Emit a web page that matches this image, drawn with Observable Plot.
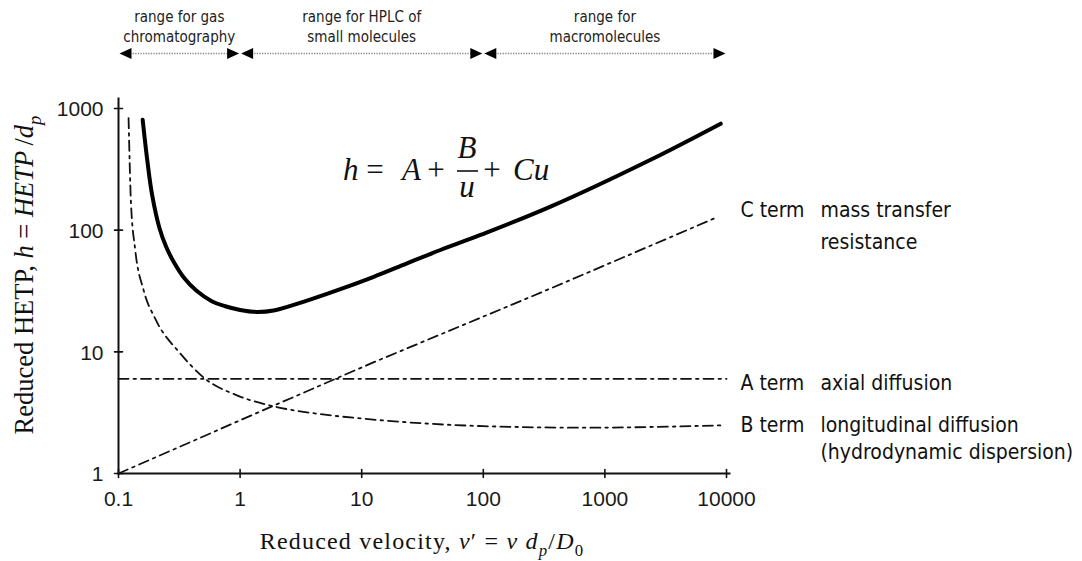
<!DOCTYPE html>
<html>
<head>
<meta charset="utf-8">
<script src="https://cdn.jsdelivr.net/npm/d3@7"></script>
<script src="https://cdn.jsdelivr.net/npm/@observablehq/plot@0.6"></script>
<style>
  body { margin: 0; background: #fff; }
  #chart svg { display: block; }
</style>
</head>
<body>
<div id="chart"></div>
<script>
// Reduced plate height h against reduced velocity v' (log–log), van Deemter form.
// Total plate height curve
const totalVelocity = [0.158, 0.173, 0.189, 0.2174, 0.247, 0.284, 0.347, 0.436, 0.59, 0.755, 1.0, 1.36, 1.887, 3.55, 6.68, 12.56, 23.6, 44.4, 94.8, 357, 2377, 8960];
const totalHeight   = [809, 366, 195, 103.8, 72.7, 55.0, 40.4, 31.9, 25.9, 23.7, 22.1, 21.3, 21.9, 26.4, 32.8, 41.4, 53.4, 68.7, 91.3, 156, 379, 750];

// A term (axial diffusion): flat
const aVelocity = [0.1, 10000];
const aHeight   = [6, 6];

// B term (longitudinal diffusion)
const bVelocity = [0.121, 0.1265, 0.137, 0.161, 0.2, 0.322, 0.517, 0.943, 2.0, 4.3, 10.4, 100, 670, 9500];
const bHeight   = [835, 172, 70, 32, 18.8, 9.7, 6.0, 4.39, 3.52, 3.10, 2.82, 2.45, 2.38, 2.49];

// C term (mass transfer resistance)
const cVelocity = [0.1, 1.83, 11.8, 245, 520, 8400];
const cHeight   = [1, 3.56, 8.0, 28.3, 38.9, 128];

// Axis ticks
const xTicks = [0.1, 1, 10, 100, 1000, 10000];
const xTickLabels = ["0.1", "1", "10", "100", "1000", "10000"];
const yTicks = [1, 10, 100, 1000];
const yTickLabels = ["1", "10", "100", "1000"];

// Operating ranges shown above the plot
const rangeStart = [0.1, 1, 100];
const rangeEnd   = [1, 100, 10000];
const rangeLabels = ["range for gas\nchromatography", "range for HPLC of\nsmall molecules", "range for\nmacromolecules"];

// Term labels at the right-hand end of each term curve
const termNames = ["C term", "A term", "B term"];
const termDescriptions = ["mass transfer\nresistance", "axial diffusion", "longitudinal diffusion\n(hydrodynamic dispersion)"];

// ---------------------------------------------------------------------------
const series = (vs, hs) => vs.map((v, i) => ({v, h: hs[i]}));
const total = series(totalVelocity, totalHeight);
const aTerm = series(aVelocity, aHeight);
const bTerm = series(bVelocity, bHeight);
const cTerm = series(cVelocity, cHeight);

const ink = "#111";
const sansUI = "'DejaVu Sans Condensed', 'DejaVu Sans', sans-serif";
const sansNum = "'Liberation Sans', Arial, sans-serif";
const serif = "'Liberation Serif', 'Times New Roman', serif";
const dashDot = "10,5,2.5,5";

// short straight segment used for the axis tick marks (centred on the axis)
const tickShape = {draw(context, l) { context.moveTo(0, 0); context.lineTo(0, -l); }};
// filled arrowhead with its tip at the origin, pointing right
const arrowHead = {draw(context) { context.moveTo(0, 0); context.lineTo(-12, -5.5); context.lineTo(-12, 5.5); context.closePath(); }};

const ranges = rangeStart.map((a, i) => ({a, b: rangeEnd[i], mid: Math.sqrt(a * rangeEnd[i]), label: rangeLabels[i]}));
const arrowTips = ranges.flatMap(r => [{x: r.a, rot: 180}, {x: r.b, rot: 0}]);

// label block for each term sits at the right end of its curve
const ends = [cTerm[cTerm.length - 1], aTerm[aTerm.length - 1], bTerm[bTerm.length - 1]];
const termLineHeights = [1.52, 1, 1.25];
const termOffsets = [-22.7, -3.4, -11.6];

const termMarks = termNames.flatMap((name, i) => {
  const common = {x: () => 10000, y: "h", dy: termOffsets[i], textAnchor: "start", lineAnchor: "top",
    lineHeight: termLineHeights[i], fontSize: 21, fontFamily: sansUI, fill: ink};
  return [
    Plot.text([ends[i]], {...common, text: () => name, dx: 14}),
    Plot.text([ends[i]], {...common, text: () => termDescriptions[i], dx: 94})
  ];
});

const plot = Plot.plot({
  width: 1082,
  height: 561,
  marginLeft: 118,
  marginRight: 356,
  marginTop: 108,
  marginBottom: 88,
  x: {type: "log", domain: [0.1, 10000], axis: null},
  y: {type: "log", domain: [1, 1000], axis: null},
  style: {background: "#fff", overflow: "visible"},
  marks: [
    // axis lines
    Plot.frame({anchor: "left", insetTop: -10, stroke: ink, strokeWidth: 2}),
    Plot.frame({anchor: "bottom", insetRight: -3, stroke: ink, strokeWidth: 2}),
    // tick marks crossing the axes
    Plot.vector(xTicks, {x: d => d, y: () => 1, length: 8, rotate: 0, anchor: "middle", shape: tickShape, stroke: ink, strokeWidth: 1.6}),
    Plot.vector(yTicks, {x: () => 0.1, y: d => d, length: 8, rotate: 90, anchor: "middle", shape: tickShape, stroke: ink, strokeWidth: 1.6}),
    // tick labels
    Plot.text(xTicks, {x: d => d, y: () => 1, text: (d, i) => xTickLabels[i], dy: 25.5, fontSize: 21, fontFamily: sansNum, fill: "#1a1a1a"}),
    Plot.text(yTicks, {x: () => 0.1, y: d => d, text: (d, i) => yTickLabels[i], dx: -15, dy: 1, textAnchor: "end", fontSize: 21, fontFamily: sansNum, fill: "#1a1a1a"}),
    // term curves
    Plot.line(cTerm, {x: "v", y: "h", stroke: ink, strokeWidth: 1.8, strokeDasharray: dashDot}),
    Plot.line(aTerm, {x: "v", y: "h", stroke: ink, strokeWidth: 1.8, strokeDasharray: dashDot}),
    Plot.line(bTerm, {x: "v", y: "h", curve: "monotone-x", stroke: ink, strokeWidth: 1.8, strokeDasharray: dashDot}),
    // total reduced plate height
    Plot.line(total, {x: "v", y: "h", curve: "catmull-rom", stroke: "#000", strokeWidth: 4}),
    ...termMarks,
    // operating ranges above the frame
    Plot.ruleY(ranges, {y: () => 1000, x1: "a", x2: "b", dy: -55, insetLeft: 12, insetRight: 12, stroke: "#888", strokeWidth: 1.3, strokeDasharray: "1.3,1.3"}),
    Plot.dot(arrowTips.filter(d => d.rot === 180), {x: "x", y: () => 1000, dy: -55, dx: 1, rotate: "rot", symbol: arrowHead, fill: "#000", stroke: "none"}),
    Plot.dot(arrowTips.filter(d => d.rot === 0), {x: "x", y: () => 1000, dy: -55, dx: -1, rotate: "rot", symbol: arrowHead, fill: "#000", stroke: "none"}),
    Plot.text(ranges, {x: "mid", y: () => 1000, text: "label", dy: -67, lineAnchor: "bottom", lineHeight: 1.27, fontSize: 15, fontFamily: sansUI, fill: "#222"})
  ]
});

document.getElementById("chart").appendChild(plot);

// Rich-text pieces (axis titles with math, and the van Deemter equation)
const svg = d3.select(plot);

function rich(sel, parts, size) {
  for (const p of parts) {
    const t = sel.append("tspan").text(p.t);
    if (p.italic) t.attr("font-style", "italic");
    if (p.sub) t.attr("font-size", size * 0.7).attr("dy", size * 0.3);
    if (p.up) t.attr("dy", -size * 0.3);
  }
}

// x-axis title
const xTitleSize = 24;
const xTitle = svg.append("text")
  .attr("x", (118 + 726) / 2).attr("y", 549)
  .attr("text-anchor", "middle")
  .attr("letter-spacing", 1.2)
  .attr("font-family", serif).attr("font-size", xTitleSize).attr("fill", ink);
rich(xTitle, [
  {t: "Reduced velocity, "}, {t: "v", italic: true}, {t: "′ = "}, {t: "v", italic: true}, {t: " "},
  {t: "d", italic: true}, {t: "p", italic: true, sub: true}, {t: "/", up: true}, {t: "D", italic: true}, {t: "0", sub: true}
], xTitleSize);

// y-axis title
const yTitleSize = 26.5;
const yTitle = svg.append("text")
  .attr("transform", "translate(33,275) rotate(-90)")
  .attr("text-anchor", "middle")
  .attr("font-family", serif).attr("font-size", yTitleSize).attr("fill", ink);
rich(yTitle, [
  {t: "Reduced HETP, "}, {t: "h", italic: true}, {t: " = "}, {t: "HETP", italic: true}, {t: "\u2009/"},
  {t: "d", italic: true}, {t: "p", italic: true, sub: true}
], yTitleSize);

// equation h = A + B/u + Cu
const eqSize = 31;
const eq = svg.append("g")
  .attr("transform", "translate(343,180)")
  .attr("font-family", serif).attr("font-size", eqSize).attr("fill", ink);
const eqText = (x, y, s, italic, anchor) => eq.append("text").attr("x", x).attr("y", y)
  .attr("font-style", italic ? "italic" : null).attr("text-anchor", anchor || "start").text(s);
eqText(0, 0, "h", true);
eqText(32, 0, "=", false, "middle");
eqText(59, 0, "A", true);
eqText(93, 0, "+", false, "middle");
eqText(124, -22, "B", true, "middle");
eq.append("line").attr("x1", 114).attr("x2", 135).attr("y1", -9).attr("y2", -9).attr("stroke", ink).attr("stroke-width", 1.6);
eqText(124, 17, "u", true, "middle");
eqText(149, 0, "+", false, "middle");
eqText(170, 0, "Cu", true);
</script>
</body>
</html>
